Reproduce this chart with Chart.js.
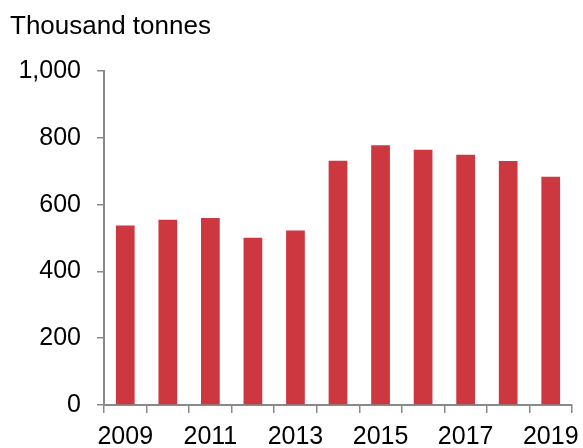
<!DOCTYPE html>
<html>
<head>
<meta charset="utf-8">
<script src="https://cdn.jsdelivr.net/npm/chart.js@4"></script>
<style>
  html, body { margin: 0; padding: 0; background: #fff; }
  #wrap { width: 583px; height: 448px; }
</style>
</head>
<body>
<div id="wrap"><canvas id="chart"></canvas></div>
<script>
const years = ['2009', '2010', '2011', '2012', '2013', '2014', '2015', '2016', '2017', '2018', '2019'];
const tonnes = [538, 555, 560, 501, 523, 732, 778, 765, 750, 731, 684];
const yTicks = [0, 200, 400, 600, 800, 1000];

const axisGrey = '#898989';
const tickFont = { family: 'Liberation Sans, Arial, sans-serif', size: 25, weight: 'normal' };
const titleFont = { family: 'Liberation Sans, Arial, sans-serif', size: 26, weight: 'normal' };

Chart.defaults.color = '#000';

new Chart(document.getElementById('chart'), {
    type: 'bar',
    data: {
        labels: years,
        datasets: [{
            label: 'Thousand tonnes',
            data: tonnes,
            backgroundColor: '#CC3740',
            barPercentage: 0.44,
            categoryPercentage: 1
        }]
    },
    options: {
        responsive: true,
        maintainAspectRatio: false,
        animation: false,
        layout: { padding: { left: 10, right: 11, top: 0, bottom: 0 } },
        plugins: {
            legend: { display: false },
            tooltip: { enabled: false },
            title: {
                display: true,
                text: 'Thousand tonnes',
                align: 'start',
                font: titleFont,
                color: '#000',
                padding: { top: 11, bottom: 29 }
            }
        },
        scales: {
            x: {
                offset: true,
                afterFit: function (axis) {
                    axis.height = 43;
                    axis.paddingLeft = 0;
                    axis.paddingRight = 0;
                },
                grid: {
                    offset: true,
                    drawOnChartArea: false,
                    drawTicks: true,
                    tickLength: 8,
                    color: axisGrey,
                    lineWidth: 1.5
                },
                border: { color: axisGrey, width: 2 },
                ticks: {
                    autoSkip: false,
                    maxRotation: 0,
                    padding: 9,
                    font: tickFont,
                    color: '#000',
                    callback: function (v, i) { return i % 2 === 0 ? years[i] : ''; }
                }
            },
            y: {
                min: yTicks[0],
                max: yTicks[yTicks.length - 1],
                afterBuildTicks: function (axis) {
                    axis.ticks = yTicks.map(function (v) { return { value: v }; });
                },
                afterFit: function (axis) { axis.width = 94; },
                grid: {
                    drawOnChartArea: false,
                    drawTicks: true,
                    tickLength: 7,
                    color: axisGrey,
                    lineWidth: 1.5
                },
                border: { color: axisGrey, width: 2 },
                ticks: {
                    padding: 16,
                    font: tickFont,
                    color: '#000',
                    callback: function (v) { return v.toLocaleString('en-US'); }
                }
            }
        }
    }
});
</script>
</body>
</html>
